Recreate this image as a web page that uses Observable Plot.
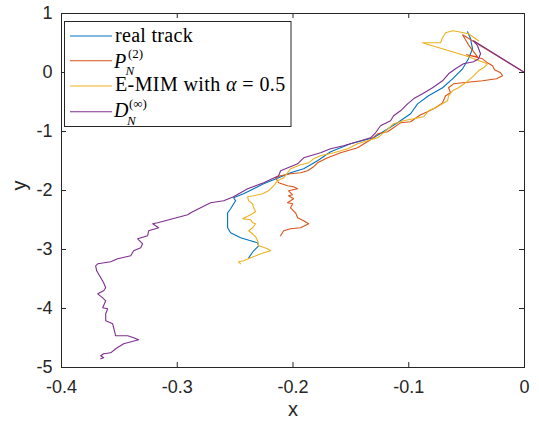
<!DOCTYPE html>
<html>
<head>
<meta charset="utf-8">
<script src="https://cdn.jsdelivr.net/npm/d3@7"></script>
<script src="https://cdn.jsdelivr.net/npm/@observablehq/plot@0.6"></script>
<style>
  html, body { margin: 0; padding: 0; background: #fff; }
</style>
</head>
<body>
<div id="chart"></div>
<script>
// ---- tick labels ----
const xTicks = [-0.4, -0.3, -0.2, -0.1, 0];
const yTicks = [1, 0, -1, -2, -3, -4, -5];

// ---- series names & colours ----
const seriesNames = ["real track", "P_N^(2)", "E-MIM with α = 0.5", "D_N^(∞)"];
const seriesColors = ["#0072BD", "#D95319", "#EDB120", "#7E2F8E"];

// ---- real track ----
const realX = [-0.0492,-0.0466,-0.0449,-0.0484,-0.0535,-0.0622,-0.0708,-0.0829,-0.0924,-0.0984,-0.1097,-0.1304,-0.1503,-0.1675,-0.1788,-0.1908,-0.2021,-0.2124,-0.2254,-0.2427,-0.2513,-0.2496,-0.2539,-0.2565,-0.2565,-0.2565,-0.2539,-0.2453,-0.2366,-0.2306,-0.2297,-0.2340,-0.2383];
const realY = [0.690,0.571,0.402,0.232,0.063,-0.107,-0.259,-0.395,-0.531,-0.700,-0.853,-1.107,-1.208,-1.344,-1.497,-1.632,-1.700,-1.785,-1.886,-2.056,-2.124,-2.175,-2.310,-2.378,-2.514,-2.632,-2.717,-2.802,-2.853,-2.886,-2.937,-3.022,-3.141];

// ---- P_N^(2) ----
const pX = [0,-0.0535,-0.0484,-0.0406,-0.0501,-0.0363,-0.0320,-0.0276,-0.0259,-0.0207,-0.0190,-0.0242,-0.0363,-0.0536,-0.0613,-0.0656,-0.0639,-0.0682,-0.0708,-0.0769,-0.0838,-0.0898,-0.0984,-0.1071,-0.1157,-0.1183,-0.1269,-0.1330,-0.1442,-0.1589,-0.1701,-0.1788,-0.1822,-0.1874,-0.1934,-0.2021,-0.2107,-0.2150,-0.2124,-0.2047,-0.1995,-0.1960,-0.2038,-0.2003,-0.2038,-0.1995,-0.2047,-0.2003,-0.2021,-0.1978,-0.1960,-0.1908,-0.1865,-0.1934,-0.2021,-0.2081,-0.2107];
const pY = [0,0.639,0.469,0.266,0.300,0.232,0.164,0.114,0.046,-0.005,-0.056,-0.107,-0.141,-0.175,-0.192,-0.259,-0.344,-0.395,-0.514,-0.598,-0.666,-0.717,-0.836,-0.853,-0.971,-1.005,-1.039,-1.141,-1.276,-1.361,-1.446,-1.531,-1.598,-1.666,-1.700,-1.717,-1.751,-1.785,-1.869,-1.920,-1.937,-1.971,-2.005,-2.073,-2.090,-2.141,-2.208,-2.225,-2.293,-2.378,-2.463,-2.514,-2.564,-2.632,-2.649,-2.683,-2.768];

// ---- E-MIM with alpha = 0.5 ----
const eX = [-0.0397,-0.0484,-0.0570,-0.0622,-0.0682,-0.0708,-0.0725,-0.0881,-0.0509,-0.0320,-0.0354,-0.0397,-0.0440,-0.0509,-0.0570,-0.0622,-0.0656,-0.0665,-0.0708,-0.0769,-0.0829,-0.0872,-0.0959,-0.1045,-0.1131,-0.1218,-0.1269,-0.1356,-0.1442,-0.1528,-0.1649,-0.1762,-0.1822,-0.1865,-0.1934,-0.2021,-0.2081,-0.2133,-0.2168,-0.2211,-0.2263,-0.2340,-0.2392,-0.2383,-0.2349,-0.2340,-0.2323,-0.2366,-0.2435,-0.2366,-0.2349,-0.2323,-0.2349,-0.2383,-0.2349,-0.2323,-0.2306,-0.2297,-0.2219,-0.2193,-0.2254,-0.2366,-0.2427,-0.2470,-0.2453];
const eY = [0.537,0.656,0.690,0.707,0.673,0.588,0.503,0.503,0.283,0.147,0.080,0.029,-0.056,-0.175,-0.259,-0.310,-0.395,-0.480,-0.531,-0.598,-0.649,-0.751,-0.785,-0.819,-0.869,-1.022,-1.107,-1.158,-1.208,-1.293,-1.361,-1.412,-1.463,-1.531,-1.564,-1.632,-1.785,-1.836,-1.920,-2.005,-2.056,-2.090,-2.107,-2.175,-2.225,-2.293,-2.361,-2.412,-2.480,-2.497,-2.547,-2.564,-2.632,-2.683,-2.734,-2.785,-2.853,-2.937,-2.988,-3.022,-3.056,-3.141,-3.192,-3.208,-3.242];

// ---- D_N^(inf) ----
const dX = [0,-0.0440,-0.0406,-0.0380,-0.0397,-0.0440,-0.0527,-0.0596,-0.0656,-0.0708,-0.0794,-0.0881,-0.0959,-0.1010,-0.1071,-0.1131,-0.1157,-0.1244,-0.1287,-0.1330,-0.1416,-0.1563,-0.1675,-0.1762,-0.1908,-0.1960,-0.2107,-0.2124,-0.2254,-0.2392,-0.2513,-0.2599,-0.2712,-0.2884,-0.2910,-0.3169,-0.3212,-0.3161,-0.3247,-0.3256,-0.3342,-0.3299,-0.3316,-0.3377,-0.3402,-0.3515,-0.3575,-0.3687,-0.3705,-0.3696,-0.3661,-0.3636,-0.3618,-0.3636,-0.3687,-0.3644,-0.3618,-0.3644,-0.3601,-0.3618,-0.3618,-0.3558,-0.3549,-0.3532,-0.3428,-0.3377,-0.3333,-0.3463,-0.3532,-0.3575,-0.3636,-0.3661,-0.3636,-0.3661];
const dY = [0,0.537,0.453,0.317,0.232,0.181,0.147,0.063,-0.022,-0.141,-0.259,-0.361,-0.446,-0.531,-0.649,-0.734,-0.819,-0.903,-1.022,-1.107,-1.158,-1.242,-1.293,-1.361,-1.446,-1.547,-1.666,-1.751,-1.869,-1.971,-2.107,-2.175,-2.208,-2.378,-2.412,-2.547,-2.564,-2.632,-2.683,-2.768,-2.819,-2.903,-2.971,-3.022,-3.107,-3.158,-3.208,-3.242,-3.276,-3.361,-3.480,-3.564,-3.649,-3.700,-3.751,-3.819,-3.869,-3.988,-4.005,-4.090,-4.208,-4.259,-4.327,-4.463,-4.463,-4.497,-4.531,-4.598,-4.683,-4.751,-4.768,-4.802,-4.836,-4.853];

// build table
const seriesXY = [[realX, realY], [pX, pY], [eX, eY], [dX, dY]];
const rows = [];
seriesXY.forEach(([xs, ys], s) => {
  xs.forEach((x, i) => rows.push({series: seriesNames[s], x, y: ys[i]}));
});

const axisColor = "#262626";

const chart = Plot.plot({
  width: 539,
  height: 427,
  marginLeft: 61,
  marginRight: 15,
  marginTop: 13,
  marginBottom: 60,
  style: {fontFamily: "'Liberation Sans', Arial, sans-serif", fontSize: "18px", color: axisColor, background: "white"},
  x: {domain: [-0.4, 0]},
  y: {domain: [-5, 1]},
  color: {domain: seriesNames, range: seriesColors},
  marks: [
    Plot.line(rows, {x: "x", y: "y", z: "series", stroke: "series", strokeWidth: 1.1, curve: "linear"}),
    Plot.frame({stroke: axisColor, strokeWidth: 1}),
    Plot.tickX(xTicks, {x: d => d, insetTop: 349, stroke: axisColor}),
    Plot.tickX(xTicks, {x: d => d, insetBottom: 349, stroke: axisColor}),
    Plot.tickY(yTicks, {y: d => d, insetRight: 458, stroke: axisColor}),
    Plot.tickY(yTicks, {y: d => d, insetLeft: 458, stroke: axisColor}),
    Plot.axisX({ticks: xTicks, tickSize: 0, tickPadding: 13, tickFormat: d => String(d), label: null, fill: axisColor}),
    Plot.axisY({ticks: yTicks, tickSize: 0, tickPadding: 9, tickFormat: d => String(d), label: null, fill: axisColor}),
    Plot.text(["x"], {frameAnchor: "bottom", dy: 48, text: d => d, fontSize: 20, fill: axisColor}),
    Plot.text(["y"], {frameAnchor: "left", dx: -42, text: d => d, fontSize: 20, rotate: -90, fill: axisColor})
  ]
});

document.getElementById("chart").appendChild(chart);

// ---- legend (real text, LaTeX-like) ----
const svg = d3.select(chart);
const lg = svg.append("g")
  .attr("font-family", "'Liberation Serif', 'Times New Roman', serif")
  .attr("text-anchor", "start")
  .attr("fill", "#000");
lg.append("rect").attr("x", 64.5).attr("y", 21.5).attr("width", 226.5).attr("height", 105)
  .attr("fill", "white").attr("stroke", axisColor).attr("stroke-width", 1);
const rowY = [36, 60.7, 86, 111.7];
rowY.forEach((y, i) => {
  lg.append("line").attr("x1", 70).attr("x2", 112).attr("y1", y).attr("y2", y)
    .attr("stroke", seriesColors[i]).attr("stroke-width", 1.1);
});
// row 0
lg.append("text").attr("x", 115).attr("y", 42).attr("font-size", 20).attr("letter-spacing", 0.3).text("real track");
// row 1: P_N^(2)
const t1 = lg.append("text").attr("font-size", 20);
t1.append("tspan").attr("x", 114).attr("y", 68).attr("font-style", "italic").text("P");
t1.append("tspan").attr("x", 125.5).attr("y", 75).attr("font-size", 13).attr("font-style", "italic").text("N");
t1.append("tspan").attr("x", 128).attr("y", 58).attr("font-size", 13).text("(2)");
// row 2
const t2 = lg.append("text").attr("x", 115).attr("y", 91).attr("font-size", 20).attr("letter-spacing", 0.4);
t2.append("tspan").text("E-MIM with ");
t2.append("tspan").attr("font-style", "italic").text("α");
t2.append("tspan").text(" = 0.5");
// row 3: D_N^(inf)
const t3 = lg.append("text").attr("font-size", 20);
t3.append("tspan").attr("x", 114).attr("y", 117).attr("font-style", "italic").text("D");
t3.append("tspan").attr("x", 127).attr("y", 125).attr("font-size", 13).attr("font-style", "italic").text("N");
t3.append("tspan").attr("x", 129).attr("y", 108).attr("font-size", 13).text("(∞)");
</script>
</body>
</html>
